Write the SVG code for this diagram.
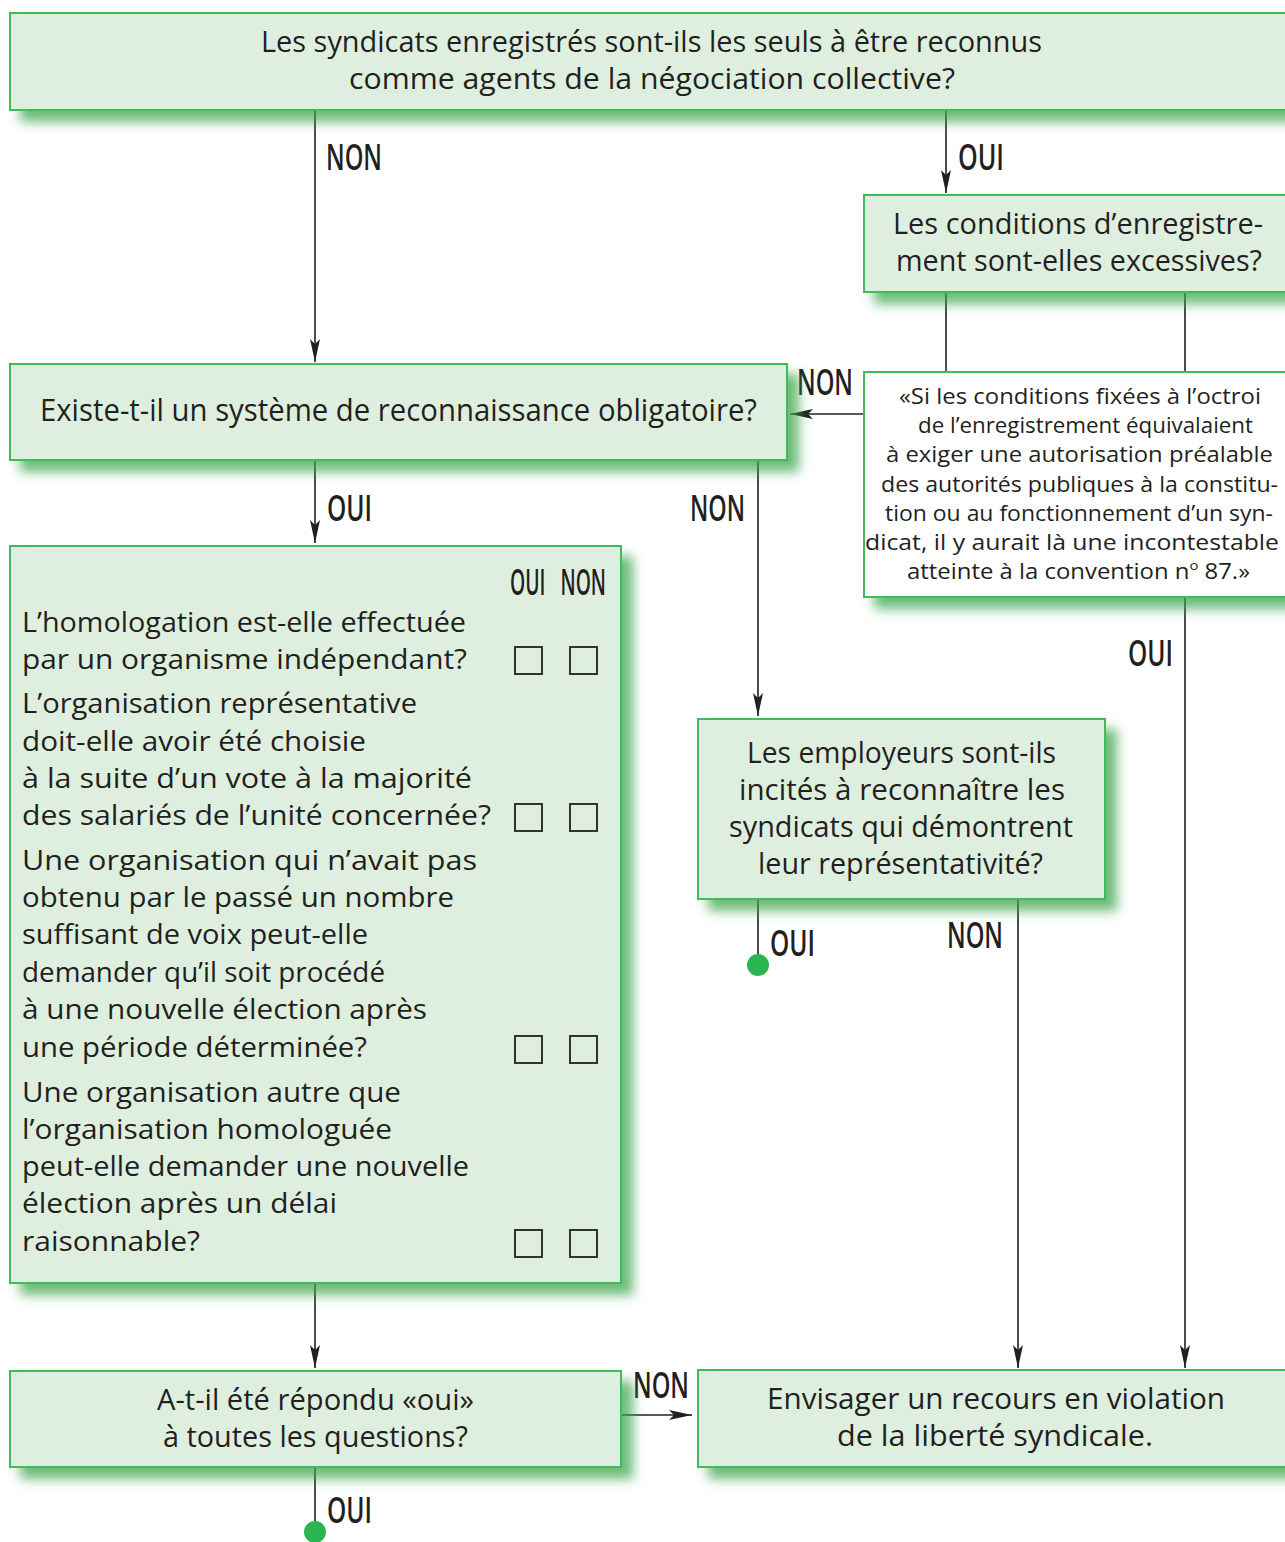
<svg xmlns="http://www.w3.org/2000/svg" width="1285" height="1542" viewBox="0 0 1285 1542">
  <defs>
    <style>
      .box { fill: #dfefdf; stroke: #3fbb5c; stroke-width: 2; }
      .quote { fill: #ffffff; stroke: #3fbb5c; stroke-width: 2; }
      .t { font-family: "Open Sans", "Noto Sans", sans-serif; fill: #231f20; }
      .c { text-anchor: middle; }
      .lbl { font-family: "Open Sans", "Noto Sans", sans-serif; font-size: 36px; font-weight: 600; fill: #231f20; }
      .wire { stroke: #231f20; stroke-width: 1.6; fill: none; }
      .arrow { marker-end: url(#head); }
      .chk { fill: none; stroke: #333333; stroke-width: 2; }
      .dot { fill: #2bb550; }
    </style>
    <filter id="shadow" x="-5%" y="-20%" width="115%" height="150%">
      <feGaussianBlur in="SourceAlpha" stdDeviation="6"/>
      <feOffset dx="11" dy="11" result="b"/>
      <feFlood flood-color="#3aa64c" flood-opacity="0.75"/>
      <feComposite in2="b" operator="in"/>
      <feMerge>
        <feMergeNode/>
        <feMergeNode in="SourceGraphic"/>
      </feMerge>
    </filter>
    <marker id="head" markerUnits="userSpaceOnUse" viewBox="-24 -6 26 12" refX="0" refY="0" markerWidth="26" markerHeight="12" orient="auto">
      <path d="M-23,-5 L0,0 L-23,5 L-18,0 Z" fill="#231f20"/>
    </marker>
  </defs>

  <!-- connectors -->
  <g id="connectors">
    <path class="wire arrow" d="M315,110 V362"/>
    <path class="wire arrow" d="M946,110 V193"/>
    <path class="wire" d="M946,292 V372"/>
    <path class="wire" d="M1185,292 V372"/>
    <path class="wire arrow" d="M864,414 H790"/>
    <path class="wire arrow" d="M315,460 V543"/>
    <path class="wire arrow" d="M758,460 V716"/>
    <path class="wire arrow" d="M1185,597 V1368"/>
    <path class="wire" d="M758,899 V962"/>
    <path class="wire arrow" d="M1018,899 V1368"/>
    <path class="wire arrow" d="M315,1283 V1368"/>
    <path class="wire arrow" d="M621,1415 H692"/>
    <path class="wire" d="M315,1467 V1528"/>
    <circle class="dot" cx="758" cy="965" r="11"/>
    <circle class="dot" cx="315" cy="1532" r="11"/>

    <text class="lbl" x="326" y="170" textLength="56" lengthAdjust="spacingAndGlyphs">NON</text>
    <text class="lbl" x="958" y="170" textLength="46" lengthAdjust="spacingAndGlyphs">OUI</text>
    <text class="lbl" x="797" y="395" textLength="56" lengthAdjust="spacingAndGlyphs">NON</text>
    <text class="lbl" x="327" y="521" textLength="45" lengthAdjust="spacingAndGlyphs">OUI</text>
    <text class="lbl" x="690" y="521" textLength="55" lengthAdjust="spacingAndGlyphs">NON</text>
    <text class="lbl" x="1128" y="666" textLength="45" lengthAdjust="spacingAndGlyphs">OUI</text>
    <text class="lbl" x="770" y="956" textLength="45" lengthAdjust="spacingAndGlyphs">OUI</text>
    <text class="lbl" x="947" y="948" textLength="56" lengthAdjust="spacingAndGlyphs">NON</text>
    <text class="lbl" x="633" y="1398" textLength="56" lengthAdjust="spacingAndGlyphs">NON</text>
    <text class="lbl" x="327" y="1523" textLength="45" lengthAdjust="spacingAndGlyphs">OUI</text>
  </g>

  <!-- question: registered unions only -->
  <g id="q-enregistres">
    <rect class="box" x="10" y="13" width="1285" height="97" filter="url(#shadow)"/>
    <text class="t c" font-size="29" x="651.5" y="52" textLength="781" lengthAdjust="spacingAndGlyphs">Les syndicats enregistrés sont-ils les seuls à être reconnus</text>
    <text class="t c" font-size="29" x="652" y="89" textLength="606" lengthAdjust="spacingAndGlyphs">comme agents de la négociation collective?</text>
  </g>

  <!-- question: registration conditions -->
  <g id="q-conditions">
    <rect class="box" x="864" y="195" width="430" height="97" filter="url(#shadow)"/>
    <text class="t c" font-size="29" x="1078" y="234" textLength="370" lengthAdjust="spacingAndGlyphs">Les conditions d’enregistre-</text>
    <text class="t c" font-size="29" x="1079" y="271" textLength="366" lengthAdjust="spacingAndGlyphs">ment sont-elles excessives?</text>
  </g>

  <!-- quotation -->
  <g id="citation">
    <rect class="quote" x="864" y="372" width="430" height="225" filter="url(#shadow)"/>
    <g class="t c" font-size="21">
      <text x="1080" y="404" textLength="362" lengthAdjust="spacingAndGlyphs">«Si les conditions fixées à l’octroi</text>
      <text x="1085.5" y="433" textLength="335" lengthAdjust="spacingAndGlyphs">de l’enregistrement équivalaient</text>
      <text x="1079.5" y="462" textLength="387" lengthAdjust="spacingAndGlyphs">à exiger une autorisation préalable</text>
      <text x="1079.5" y="492" textLength="397" lengthAdjust="spacingAndGlyphs">des autorités publiques à la constitu-</text>
      <text x="1079" y="521" textLength="388" lengthAdjust="spacingAndGlyphs">tion ou au fonctionnement d’un syn-</text>
      <text x="1072" y="550" textLength="414" lengthAdjust="spacingAndGlyphs">dicat, il y aurait là une incontestable</text>
      <text x="1078.5" y="579" textLength="343" lengthAdjust="spacingAndGlyphs">atteinte à la convention n<tspan font-size="13" dy="-9">o</tspan><tspan dy="9"> 87.»</tspan></text>
    </g>
  </g>

  <!-- question: compulsory recognition -->
  <g id="q-reconnaissance">
    <rect class="box" x="10" y="364" width="777" height="96" filter="url(#shadow)"/>
    <text class="t c" font-size="31" x="398.5" y="421" textLength="717" lengthAdjust="spacingAndGlyphs">Existe-t-il un système de reconnaissance obligatoire?</text>
  </g>

  <!-- checklist -->
  <g id="q-homologation">
    <rect class="box" x="10" y="546" width="611" height="737" filter="url(#shadow)"/>
    <text class="lbl" font-size="29" x="510" y="595" textLength="96" lengthAdjust="spacingAndGlyphs">OUI&#160;&#160;&#160;NON</text>
    <g class="t" font-size="28">
      <text x="22" y="632" textLength="444" lengthAdjust="spacingAndGlyphs">L’homologation est-elle effectuée</text>
      <text x="22" y="669" textLength="445" lengthAdjust="spacingAndGlyphs">par un organisme indépendant?</text>
      <text x="22" y="713" textLength="395" lengthAdjust="spacingAndGlyphs">L’organisation représentative</text>
      <text x="22" y="751" textLength="344" lengthAdjust="spacingAndGlyphs">doit-elle avoir été choisie</text>
      <text x="22" y="788" textLength="450" lengthAdjust="spacingAndGlyphs">à la suite d’un vote à la majorité</text>
      <text x="22" y="825" textLength="469" lengthAdjust="spacingAndGlyphs">des salariés de l’unité concernée?</text>
      <text x="22" y="870" textLength="455" lengthAdjust="spacingAndGlyphs">Une organisation qui n’avait pas</text>
      <text x="22" y="907" textLength="432" lengthAdjust="spacingAndGlyphs">obtenu par le passé un nombre</text>
      <text x="22" y="944" textLength="346" lengthAdjust="spacingAndGlyphs">suffisant de voix peut-elle</text>
      <text x="22" y="982" textLength="363" lengthAdjust="spacingAndGlyphs">demander qu’il soit procédé</text>
      <text x="22" y="1019" textLength="405" lengthAdjust="spacingAndGlyphs">à une nouvelle élection après</text>
      <text x="22" y="1057" textLength="345" lengthAdjust="spacingAndGlyphs">une période déterminée?</text>
      <text x="22" y="1102" textLength="379" lengthAdjust="spacingAndGlyphs">Une organisation autre que</text>
      <text x="22" y="1139" textLength="370" lengthAdjust="spacingAndGlyphs">l’organisation homologuée</text>
      <text x="22" y="1176" textLength="447" lengthAdjust="spacingAndGlyphs">peut-elle demander une nouvelle</text>
      <text x="22" y="1213" textLength="315" lengthAdjust="spacingAndGlyphs">élection après un délai</text>
      <text x="22" y="1251" textLength="178" lengthAdjust="spacingAndGlyphs">raisonnable?</text>
    </g>
    <rect class="chk" x="515" y="647" width="27" height="27"/>
    <rect class="chk" x="570" y="647" width="27" height="27"/>
    <rect class="chk" x="515" y="804" width="27" height="27"/>
    <rect class="chk" x="570" y="804" width="27" height="27"/>
    <rect class="chk" x="515" y="1036" width="27" height="27"/>
    <rect class="chk" x="570" y="1036" width="27" height="27"/>
    <rect class="chk" x="515" y="1230" width="27" height="27"/>
    <rect class="chk" x="570" y="1230" width="27" height="27"/>
  </g>

  <!-- question: employer incentives -->
  <g id="q-employeurs">
    <rect class="box" x="698" y="719" width="407" height="180" filter="url(#shadow)"/>
    <g class="t c" font-size="29">
      <text x="901.5" y="763" textLength="309" lengthAdjust="spacingAndGlyphs">Les employeurs sont-ils</text>
      <text x="902" y="800" textLength="326" lengthAdjust="spacingAndGlyphs">incités à reconnaître les</text>
      <text x="901" y="837" textLength="344" lengthAdjust="spacingAndGlyphs">syndicats qui démontrent</text>
      <text x="900.5" y="874" textLength="285" lengthAdjust="spacingAndGlyphs">leur représentativité?</text>
    </g>
  </g>

  <!-- question: all answers yes -->
  <g id="q-toutes">
    <rect class="box" x="10" y="1371" width="611" height="96" filter="url(#shadow)"/>
    <text class="t c" font-size="29" x="315.5" y="1410" textLength="317" lengthAdjust="spacingAndGlyphs">A-t-il été répondu «oui»</text>
    <text class="t c" font-size="29" x="315.5" y="1447" textLength="305" lengthAdjust="spacingAndGlyphs">à toutes les questions?</text>
  </g>

  <!-- outcome: complaint -->
  <g id="recours">
    <rect class="box" x="698" y="1370" width="597" height="97" filter="url(#shadow)"/>
    <text class="t c" font-size="29" x="996" y="1409" textLength="458" lengthAdjust="spacingAndGlyphs">Envisager un recours en violation</text>
    <text class="t c" font-size="29" x="995" y="1446" textLength="316" lengthAdjust="spacingAndGlyphs">de la liberté syndicale.</text>
  </g>
</svg>
